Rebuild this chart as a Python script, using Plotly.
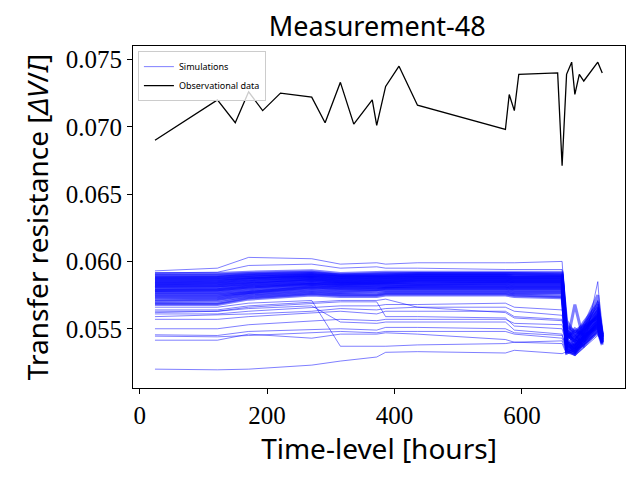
import plotly.graph_objects as go

# time levels (hours) at which the simulations were evaluated
sim_hours = [24, 122, 171, 270, 315, 372, 386, 436, 574, 588, 663, 670, 683, 697, 719, 726]

# simulations inside the dense band
sim_band = [
    [0.0591, 0.0591, 0.0592, 0.0593, 0.0591, 0.0592, 0.0592, 0.0592, 0.0592, 0.0592, 0.0592, 0.0552, 0.0548, 0.0553, 0.0565, 0.0545],
    [0.0590, 0.0590, 0.0591, 0.0592, 0.0590, 0.0591, 0.0591, 0.0591, 0.0591, 0.0591, 0.0591, 0.0548, 0.0544, 0.0550, 0.0570, 0.0544],
    [0.0589, 0.0589, 0.0590, 0.0591, 0.0590, 0.0590, 0.0590, 0.0591, 0.0591, 0.0591, 0.0590, 0.0545, 0.0541, 0.0548, 0.0558, 0.0543],
    [0.0588, 0.0588, 0.0590, 0.0591, 0.0589, 0.0590, 0.0590, 0.0590, 0.0590, 0.0590, 0.0590, 0.0540, 0.0537, 0.0546, 0.0562, 0.0542],
    [0.05875, 0.0588, 0.0589, 0.0590, 0.0589, 0.0589, 0.0589, 0.0590, 0.0590, 0.0589, 0.0589, 0.0556, 0.0546, 0.0552, 0.0575, 0.0546],
    [0.0587, 0.0587, 0.0588, 0.0590, 0.0588, 0.0589, 0.0589, 0.0589, 0.0589, 0.0589, 0.0589, 0.0537, 0.0533, 0.0544, 0.0555, 0.0541],
    [0.0586, 0.0586, 0.0588, 0.0589, 0.0588, 0.0588, 0.0588, 0.0589, 0.0589, 0.0588, 0.0588, 0.0543, 0.0550, 0.0545, 0.0560, 0.0544],
    [0.05855, 0.0586, 0.0587, 0.0589, 0.0587, 0.0588, 0.0588, 0.0588, 0.0588, 0.0588, 0.0588, 0.0535, 0.0531, 0.0540, 0.0552, 0.0539],
    [0.0585, 0.0585, 0.0587, 0.0588, 0.0587, 0.0587, 0.0587, 0.0588, 0.0588, 0.0587, 0.0587, 0.0549, 0.0538, 0.0549, 0.0566, 0.0545],
    [0.0584, 0.0584, 0.0586, 0.0588, 0.0586, 0.0587, 0.0587, 0.0587, 0.0587, 0.0587, 0.0587, 0.0533, 0.0537, 0.0543, 0.0557, 0.0540],
    [0.05835, 0.0584, 0.0585, 0.0587, 0.0586, 0.0586, 0.0586, 0.0587, 0.0587, 0.0586, 0.0586, 0.0546, 0.0543, 0.0551, 0.0563, 0.0544],
    [0.0583, 0.0583, 0.0585, 0.0587, 0.0585, 0.0586, 0.0586, 0.0586, 0.0586, 0.0586, 0.0586, 0.0538, 0.0535, 0.0541, 0.0554, 0.0542],
    [0.0582, 0.0582, 0.0584, 0.0586, 0.0585, 0.0585, 0.0585, 0.0586, 0.0586, 0.0585, 0.0585, 0.0551, 0.0545, 0.0555, 0.0568, 0.0546],
    [0.05815, 0.0582, 0.0583, 0.0586, 0.0584, 0.0585, 0.0585, 0.0585, 0.0585, 0.0585, 0.0585, 0.0534, 0.0532, 0.0539, 0.0550, 0.0540],
    [0.0581, 0.0581, 0.0583, 0.0585, 0.0584, 0.0584, 0.0584, 0.0585, 0.0585, 0.0584, 0.0584, 0.0544, 0.0548, 0.0547, 0.0561, 0.0543],
    [0.0580, 0.0580, 0.0582, 0.0584, 0.0583, 0.0584, 0.0584, 0.0584, 0.0584, 0.0584, 0.0584, 0.0539, 0.0534, 0.0542, 0.0556, 0.0541],
    [0.0579, 0.0579, 0.0581, 0.0584, 0.0583, 0.0583, 0.0583, 0.0583, 0.0584, 0.0583, 0.0583, 0.0547, 0.0540, 0.0550, 0.0559, 0.0544],
    [0.05785, 0.0579, 0.0581, 0.0583, 0.0582, 0.0583, 0.0583, 0.0583, 0.0583, 0.0582, 0.0582, 0.0536, 0.0539, 0.0544, 0.0553, 0.0542],
    [0.0578, 0.0578, 0.0580, 0.0583, 0.0582, 0.0582, 0.0582, 0.0582, 0.0582, 0.0582, 0.0582, 0.0542, 0.0536, 0.0546, 0.0564, 0.0545],
    [0.0577, 0.0577, 0.0579, 0.0582, 0.0581, 0.0581, 0.0581, 0.0582, 0.0582, 0.0581, 0.0581, 0.0532, 0.0535, 0.0538, 0.0549, 0.0539],
    [0.0576, 0.0576, 0.0578, 0.0581, 0.0580, 0.0581, 0.0581, 0.0581, 0.0581, 0.0580, 0.0580, 0.0545, 0.0541, 0.0552, 0.0558, 0.0543],
    [0.0575, 0.0575, 0.0577, 0.0581, 0.0580, 0.0580, 0.0580, 0.0580, 0.0580, 0.0580, 0.0580, 0.0538, 0.0568, 0.0541, 0.0555, 0.0541],
    [0.0574, 0.0574, 0.0577, 0.0580, 0.0579, 0.0579, 0.0580, 0.0580, 0.0580, 0.0579, 0.0579, 0.0541, 0.0533, 0.0545, 0.0551, 0.0540],
    [0.0573, 0.0573, 0.0576, 0.0579, 0.0578, 0.0579, 0.0579, 0.0579, 0.0579, 0.0578, 0.0578, 0.0535, 0.0538, 0.0543, 0.0557, 0.0542],
    [0.05715, 0.0572, 0.0575, 0.0578, 0.0577, 0.0578, 0.0578, 0.0578, 0.0578, 0.0577, 0.0577, 0.0549, 0.0542, 0.0549, 0.0560, 0.0544],
    [0.05705, 0.0571, 0.0574, 0.0577, 0.0576, 0.0576, 0.0577, 0.0577, 0.0577, 0.0576, 0.0576, 0.0533, 0.0531, 0.0537, 0.0548, 0.0538],
    [0.0569, 0.0569, 0.0573, 0.0576, 0.0575, 0.0575, 0.0576, 0.0576, 0.0576, 0.0575, 0.0574, 0.0540, 0.0536, 0.0544, 0.0553, 0.0541],
    [0.0568, 0.0568, 0.0572, 0.0575, 0.0574, 0.0574, 0.0575, 0.0575, 0.0575, 0.0574, 0.0573, 0.0537, 0.0533, 0.0541, 0.0552, 0.0540],
]

# simulations outside the band
sim_outliers = [
    [0.0593, 0.0595, 0.0603, 0.0602, 0.0598, 0.0599, 0.0598, 0.0599, 0.0599, 0.0599, 0.0600, 0.0548, 0.0542, 0.0550, 0.0560, 0.0543],
    [0.0520, 0.05195, 0.0520, 0.0523, 0.0526, 0.0529, 0.05325, 0.0533, 0.0532, 0.0534, 0.05315, 0.0533, 0.0530, 0.0536, 0.0545, 0.0541],
    [0.0566, 0.0566, 0.0569, 0.0571, 0.0537, 0.0537, 0.0537, 0.0538, 0.0539, 0.0540, 0.0541, 0.0532, 0.0536, 0.0541, 0.0552, 0.0540],
    [0.0562, 0.0563, 0.0566, 0.0569, 0.0570, 0.0570, 0.0559, 0.0559, 0.0558, 0.0552, 0.0550, 0.0538, 0.0545, 0.0540, 0.0550, 0.0541],
    [0.0550, 0.0550, 0.0553, 0.0556, 0.0557, 0.0556, 0.0557, 0.0557, 0.0557, 0.0554, 0.0553, 0.0540, 0.0535, 0.0546, 0.0556, 0.0542],
    [0.05455, 0.0545, 0.0548, 0.0549, 0.0550, 0.0549, 0.0551, 0.0551, 0.0550, 0.0547, 0.0545, 0.0536, 0.0542, 0.0538, 0.0548, 0.0540],
    [0.05445, 0.0544, 0.0545, 0.0547, 0.0548, 0.0547, 0.0548, 0.0548, 0.0548, 0.0546, 0.0543, 0.0534, 0.0531, 0.0540, 0.0547, 0.0539],
    [0.05415, 0.05415, 0.0546, 0.0543, 0.0546, 0.0546, 0.0547, 0.0546, 0.0542, 0.0540, 0.0539, 0.0531, 0.0534, 0.0538, 0.0546, 0.0540],
    [0.0557, 0.0557, 0.0559, 0.0562, 0.0563, 0.0561, 0.0563, 0.0563, 0.0563, 0.0559, 0.0557, 0.0543, 0.0538, 0.0547, 0.0556, 0.0543],
    [0.0559, 0.0560, 0.0561, 0.0563, 0.0565, 0.0564, 0.0565, 0.0566, 0.0566, 0.0563, 0.0560, 0.0539, 0.0541, 0.0543, 0.0554, 0.0541],
    [0.0561, 0.0561, 0.0563, 0.0566, 0.0567, 0.0567, 0.0568, 0.0568, 0.0569, 0.0566, 0.0564, 0.0546, 0.0537, 0.0549, 0.0559, 0.0544],
    [0.05915, 0.0592, 0.0597, 0.0598, 0.0595, 0.0596, 0.0595, 0.0595, 0.0594, 0.0594, 0.0594, 0.0544, 0.0547, 0.0546, 0.0571, 0.0545],
    [0.0563, 0.0563, 0.0565, 0.0567, 0.0555, 0.0554, 0.0555, 0.0555, 0.0555, 0.0549, 0.0546, 0.0535, 0.0533, 0.0542, 0.0551, 0.0540],
    [0.0564, 0.0564, 0.0567, 0.0570, 0.0571, 0.0571, 0.0572, 0.0566, 0.0562, 0.0558, 0.0556, 0.0542, 0.0546, 0.0536, 0.0585, 0.0542],
]

# observational data
obs_hours = [24, 122, 150, 171, 193, 221, 270, 291, 315, 336, 365, 372, 386, 407,
             436, 574, 580, 588, 595, 656, 663, 670, 678, 683, 690, 697, 719, 726]
obs_values = [0.0690, 0.0720, 0.0703, 0.0726, 0.0712, 0.0725, 0.0722, 0.0703, 0.0733, 0.0702,
              0.0720, 0.0701, 0.0730, 0.0745, 0.0716, 0.0698, 0.0724, 0.0712, 0.0739, 0.0740,
              0.0671, 0.0739, 0.0748, 0.0724, 0.0739, 0.0734, 0.0748, 0.0740]

y_ticks = [0.055, 0.060, 0.065, 0.070, 0.075]
x_ticks = [0, 200, 400, 600]

fig = go.Figure()

first = True
for row in sim_outliers:
    fig.add_trace(go.Scatter(x=sim_hours, y=row, mode='lines', name='Simulations',
                             legendgroup='sim', showlegend=first,
                             line=dict(color='rgba(0,0,255,0.5)', width=1)))
    first = False
for row in sim_band:
    fig.add_trace(go.Scatter(x=sim_hours, y=row, mode='lines', name='Simulations',
                             legendgroup='sim', showlegend=False,
                             line=dict(color='rgba(0,0,255,0.5)', width=3)))

fig.add_trace(go.Scatter(x=obs_hours, y=obs_values, mode='lines', name='Observational data',
                         line=dict(color='black', width=1.3)))

axis_style = dict(showline=True, linecolor='black', linewidth=1, mirror=True,
                  ticks='outside', ticklen=5, tickwidth=1, tickcolor='black',
                  showgrid=False, zeroline=False,
                  tickfont=dict(family='Liberation Serif', size=25, color='black'))

# the page body adds 8px on the left and top, margins below allow for it
fig.update_layout(
    width=640, height=480,
    margin=dict(l=125, r=23, t=38, b=100),
    paper_bgcolor='white', plot_bgcolor='white',
    title=dict(text='Measurement-48', x=0.577, xanchor='center', y=0.962, yanchor='middle',
               font=dict(family='Noto Sans', size=27, color='black')),
    xaxis=dict(range=[-10.5, 761.7], tickvals=x_ticks,
               title=dict(text='Time-level [hours]', standoff=4,
                          font=dict(family='Noto Sans', size=28, color='black')),
               **axis_style),
    yaxis=dict(range=[0.0506, 0.0760], tickvals=y_ticks, tickformat='.3f',
               title=dict(text='Transfer resistance [<i>ΔV</i>/<i>I</i>]', standoff=8,
                          font=dict(family='Noto Sans', size=28, color='black')),
               **axis_style),
    legend=dict(x=0.01, y=0.985, xanchor='left', yanchor='top',
                bgcolor='rgba(255,255,255,0.8)', bordercolor='#cccccc', borderwidth=1,
                font=dict(family='Noto Sans', size=9, color='black'),
                tracegroupgap=0, itemwidth=30),
    showlegend=True,
)

fig.write_html("out.html")
